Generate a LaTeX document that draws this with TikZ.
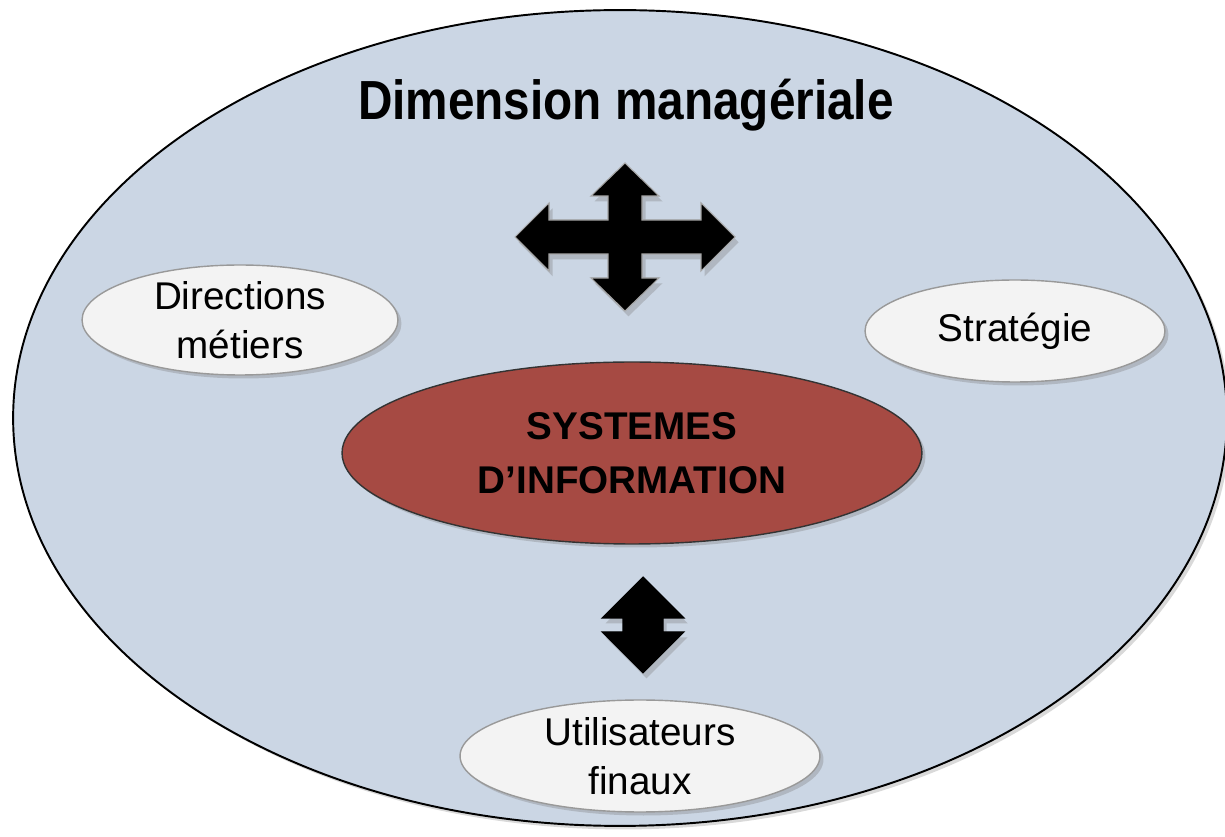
\documentclass[tikz,border=0pt]{standalone}
\usepackage{fontspec}
\setmainfont{Liberation Sans}
\usetikzlibrary{shapes.geometric,shadows}
\definecolor{dimfill}{RGB}{203,214,228}
\definecolor{sifill}{RGB}{166,74,67}
\definecolor{boxfill}{RGB}{243,243,243}
\begin{document}
\begin{tikzpicture}[x=0.02cm, y=-0.02cm,
  pole/.style={ellipse, draw=gray!80, line width=0.8pt, fill=boxfill, inner sep=0pt,
    align=center, font=\fontsize{22}{28}\selectfont,
    drop shadow={opacity=0.35, shadow xshift=2pt, shadow yshift=-2pt}},
  fleche/.style={fill=black, draw=gray!70, line width=0.6pt,
    drop shadow={opacity=0.35, shadow xshift=2pt, shadow yshift=-3pt}}]
 \useasboundingbox (0,0) rectangle (1225,837);
%
 \node[ellipse, draw=black, line width=1.1pt, fill=dimfill, minimum width=24.28cm, minimum height=16.32cm,
   drop shadow={opacity=0.3, shadow xshift=2pt, shadow yshift=-2pt}] (dim) at (620,418) {};
 \node[font=\fontsize{28}{32}\selectfont\bfseries] (titre) at (626,105) {\scalebox{0.97}[1.12]{Dimension managériale}};
%
 \node[pole, minimum width=6.32cm, minimum height=2.2cm] (directions) at (240,320) {Directions\\métiers};
 \node[pole, minimum width=6.0cm, minimum height=2.04cm] (strategie) at (1015,331) {Stratégie};
 \node[pole, minimum width=7.2cm, minimum height=2.24cm] (utilisateurs) at (640,756) {Utilisateurs\\finaux};
%
 \node[ellipse, draw=black!80, line width=0.8pt, fill=sifill, minimum width=11.6cm, minimum height=3.64cm,
   align=center, font=\fontsize{22}{31}\selectfont\bfseries,
   drop shadow={opacity=0.35, shadow xshift=2pt, shadow yshift=-2pt}] (si) at (632,453) {SYSTEMES\\D’INFORMATION};
%
 \begin{scope}[shift={(625,237)}]
  \draw[fleche] (-110,0) -- (-76,-34) -- (-76,-17) -- (-17,-17) -- (-17,-41) -- (-34,-41) -- (0,-74)
   -- (34,-41) -- (17,-41) -- (17,-17) -- (76,-17) -- (76,-34) -- (110,0) -- (76,34) -- (76,17)
   -- (17,17) -- (17,41) -- (34,41) -- (0,74) -- (-34,41) -- (-17,41) -- (-17,17) -- (-76,17)
   -- (-76,34) -- cycle;
 \end{scope}
%
 \begin{scope}[shift={(643,625)}]
  \draw[fleche, draw=black] (0,-48) -- (41,-7) -- (20,-7) -- (20,7) -- (41,7) -- (0,48) -- (-41,7)
   -- (-20,7) -- (-20,-7) -- (-41,-7) -- cycle;
 \end{scope}
\end{tikzpicture}
\end{document}
